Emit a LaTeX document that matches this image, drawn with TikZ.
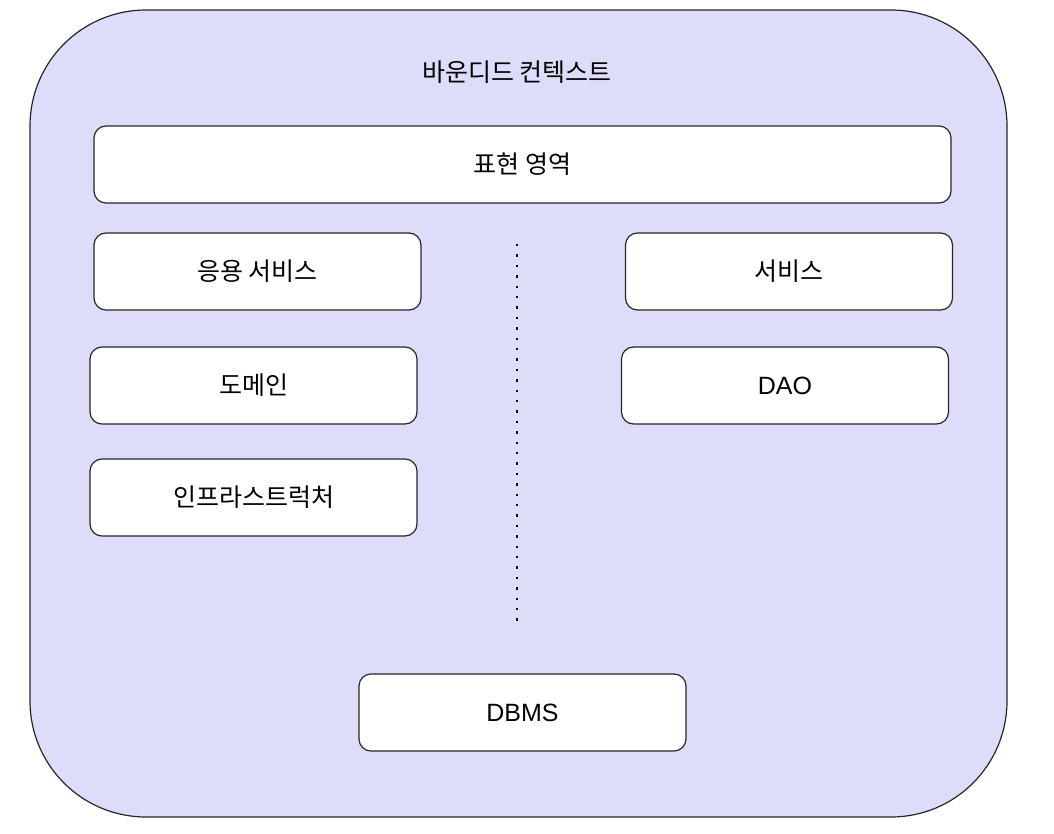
\documentclass[tikz,border=0pt]{standalone}
\usepackage{fontspec}
\setmainfont{Liberation Sans}
\newfontfamily\kr{Noto Sans CJK KR}
\definecolor{ctxfill}{RGB}{221,221,250}
\begin{document}
\begin{tikzpicture}[x=1pt, y=-1pt]
      \tikzstyle{ctx}=[draw=black!85, line width=1.2pt, fill=ctxfill, rounded corners=116pt, minimum width=977pt, minimum height=807pt, inner sep=0pt]
      \tikzstyle{box}=[draw=black!85, line width=1.2pt, fill=white, rounded corners=12pt, minimum width=327pt, minimum height=77pt, inner sep=0pt, font=\fontsize{25pt}{29pt}\selectfont]
      \tikzstyle{krbox}=[box, font=\fontsize{25pt}{29pt}\selectfont\kr]
      \useasboundingbox (0,0) rectangle (1054,834);
      \node[ctx] (bc) at (518.5,413.5) {};
      \node[font=\fontsize{25pt}{29pt}\selectfont\kr] (title) at (517,72) {바운디드 컨텍스트};
      \node[krbox, minimum width=857pt] (ui) at (522.5,164.5) {표현 영역};
      \node[krbox] (app) at (257.5,271.5) {응용 서비스};
      \node[krbox] (dom) at (253.5,385.5) {도메인};
      \node[krbox] (infra) at (253.5,497.5) {인프라스트럭처};
      \node[krbox] (svc) at (789,271.5) {서비스};
      \node[box] (dao) at (785,385.5) {DAO};
      \node[box] (dbms) at (522.5,712.5) {DBMS};
      \coordinate (top) at (517,244);
      \coordinate (bot) at (517,621);
      \draw[line width=2.4pt, dash pattern=on 2.4pt off 8pt] (top) -- (bot);
    \end{tikzpicture}
\end{document}
